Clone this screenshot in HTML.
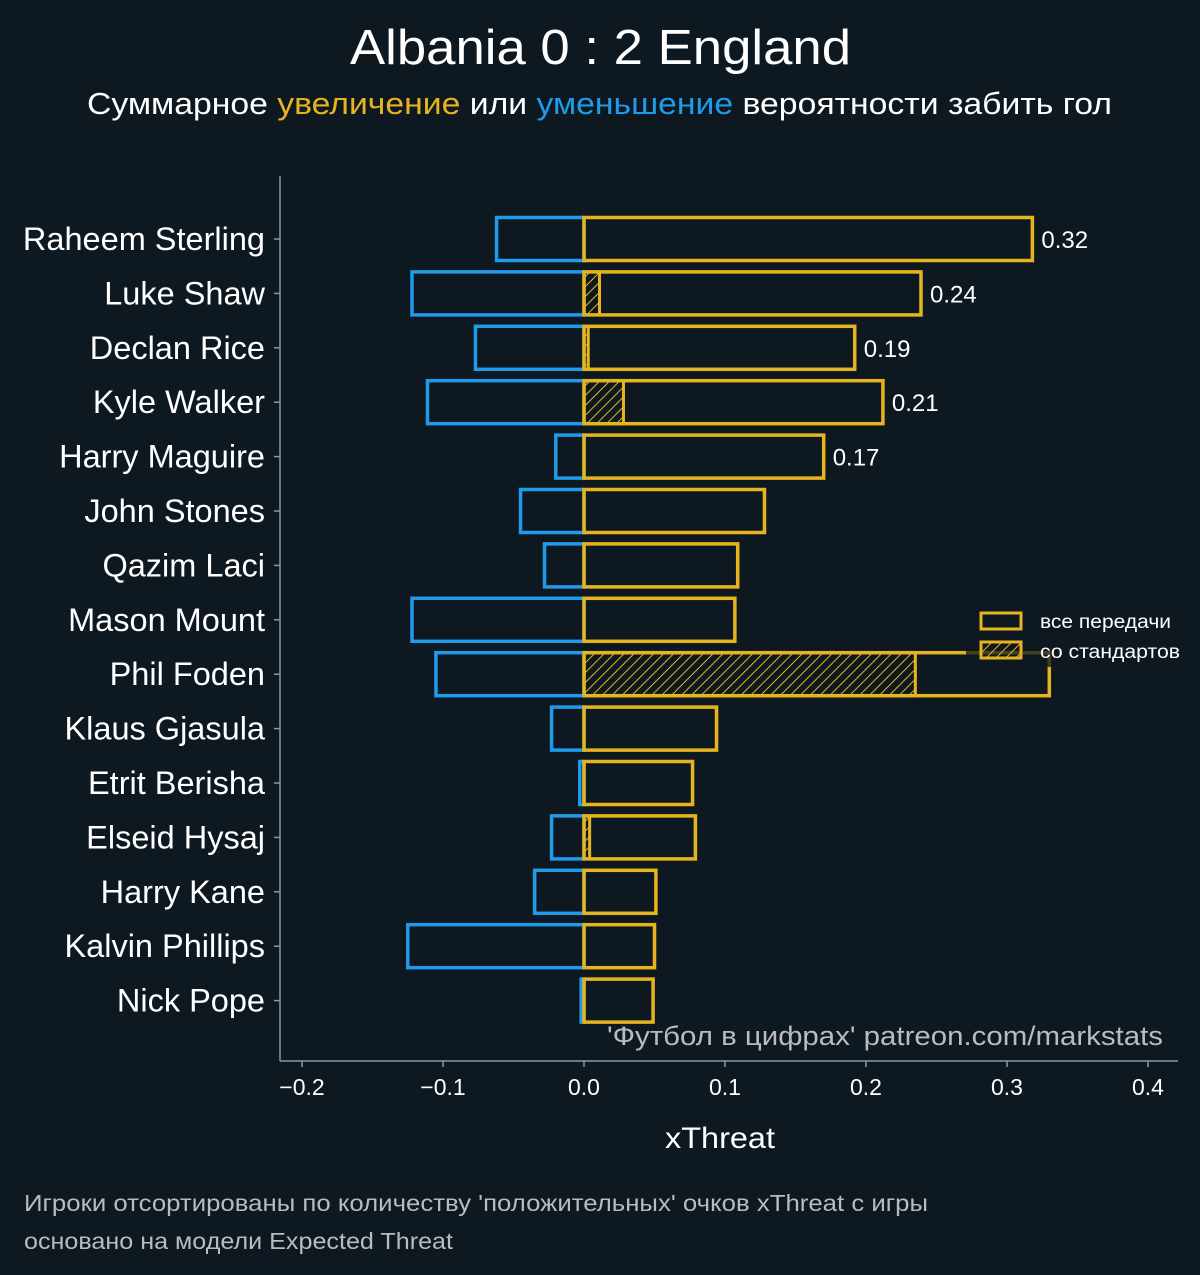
<!DOCTYPE html>
<html><head><meta charset="utf-8">
<style>
html,body{margin:0;padding:0;background:#0e1820;}
svg{display:block;font-family:"Liberation Sans","DejaVu Sans",sans-serif;}
</style></head>
<body>
<svg id="chart" width="1200" height="1275" viewBox="0 0 1200 1275">
<defs>
<pattern id="hatch" patternUnits="userSpaceOnUse" width="7" height="7" patternTransform="rotate(45)">
<line x1="0" y1="0" x2="0" y2="7" stroke="#e6b41e" stroke-width="2"/>
</pattern>
</defs>
<rect width="1200" height="1275" fill="#0e1820"/>
<text x="350" y="64" textLength="501" lengthAdjust="spacingAndGlyphs" font-size="49" fill="#ffffff">Albania 0 : 2 England</text>
<text x="87" y="114" textLength="1025" lengthAdjust="spacingAndGlyphs" font-size="31" fill="#ffffff">Суммарное <tspan fill="#e6b41e">увеличение</tspan> или <tspan fill="#1f9bea">уменьшение</tspan> вероятности забить гол</text>
<g id="plot"></g>
<text x="607" y="1045" textLength="556" lengthAdjust="spacingAndGlyphs" font-size="27" fill="#bbbbbb">'Футбол в цифрах' patreon.com/markstats</text>
<text x="665" y="1148" textLength="110" lengthAdjust="spacingAndGlyphs" font-size="30" fill="#ffffff">xThreat</text>
<text x="24" y="1211" textLength="904" lengthAdjust="spacingAndGlyphs" font-size="23" fill="#bbbbbb">Игроки отсортированы по количеству 'положительных' очков xThreat с игры</text>
<text x="24" y="1249" textLength="429" lengthAdjust="spacingAndGlyphs" font-size="23" fill="#bbbbbb">основано на модели Expected Threat</text>
<g>
<rect x="966" y="605" width="226" height="62" fill="rgba(14,24,32,0.75)"/>
<rect x="981" y="613" width="40" height="16" fill="none" stroke="#e6b41e" stroke-width="3"/>
<text x="1040" y="628" textLength="131" lengthAdjust="spacingAndGlyphs" font-size="19" fill="#ffffff">все передачи</text>
<rect x="981" y="642" width="40" height="16" fill="url(#hatch)" stroke="#e6b41e" stroke-width="3"/>
<text x="1040" y="658" textLength="140" lengthAdjust="spacingAndGlyphs" font-size="19" fill="#ffffff">со стандартов</text>
</g>
</svg>
<script>
const players = ["Raheem Sterling","Luke Shaw","Declan Rice","Kyle Walker","Harry Maguire","John Stones","Qazim Laci","Mason Mount","Phil Foden","Klaus Gjasula","Etrit Berisha","Elseid Hysaj","Harry Kane","Kalvin Phillips","Nick Pope"];
const positive = [0.318,0.239,0.192,0.212,0.170,0.128,0.109,0.107,0.330,0.094,0.077,0.079,0.051,0.050,0.049];
const negative = [-0.062,-0.122,-0.077,-0.111,-0.020,-0.045,-0.028,-0.122,-0.105,-0.023,-0.003,-0.023,-0.035,-0.125,-0.002];
const setPiece = [0,0.011,0.003,0.028,0,0,0,0,0.235,0,0,0.004,0,0,0];
const valueLabels = ["0.32","0.24","0.19","0.21","0.17"];
const xTicks = [-0.2,-0.1,0.0,0.1,0.2,0.3,0.4];

const NS="http://www.w3.org/2000/svg";
const g=document.getElementById('plot');
const x=v=>584+v*1410;
const y=i=>239+i*54.4;
const BH=43;
function mk(t,a){const e=document.createElementNS(NS,t);for(const k in a)e.setAttribute(k,a[k]);g.appendChild(e);return e;}
let e;
e=mk('line',{x1:280,y1:176,x2:280,y2:1061,stroke:'#8a9aa0','stroke-width':1.5});


e=mk('line',{x1:280,y1:1061,x2:1178,y2:1061,stroke:'#8a9aa0','stroke-width':1.5});


xTicks.forEach(t=>{
 e=mk('line',{x1:x(t),y1:1061,x2:x(t),y2:1067,stroke:'#8a9aa0','stroke-width':1.5});
 
 
 e=mk('text',{x:x(t),y:1095,'text-anchor':'middle','font-size':23,fill:'#ffffff'});
 e.textContent=(t<0?'\u2212':'')+Math.abs(t).toFixed(1);
 
 
});
players.forEach((p,i)=>{
 const cy=y(i);
 e=mk('line',{x1:274,y1:cy,x2:280,y2:cy,stroke:'#8a9aa0','stroke-width':1.5});
 
 
 e=mk('text',{x:265,y:cy+11,'text-anchor':'end','font-size':32.5,fill:'#ffffff'});
 e.textContent=p;
 
 
 e=mk('rect',{x:x(negative[i]),y:cy-BH/2,width:x(0)-x(negative[i]),height:BH,fill:'none',stroke:'#1f9bea','stroke-width':3.5});
 
 
 if(setPiece[i]>0){
  e=mk('rect',{x:x(0),y:cy-BH/2,width:x(setPiece[i])-x(0),height:BH,fill:'url(#hatch)',stroke:'#e6b41e','stroke-width':3});
  
  
 }
 e=mk('rect',{x:x(0),y:cy-BH/2,width:x(positive[i])-x(0),height:BH,fill:'none',stroke:'#e6b41e','stroke-width':3.5});
 
 
 if(i<valueLabels.length){
  e=mk('text',{x:x(positive[i])+9,y:cy+9,'font-size':24,fill:'#ffffff'});
  e.textContent=valueLabels[i];
  
  
 }
});
</script>
</body></html>
